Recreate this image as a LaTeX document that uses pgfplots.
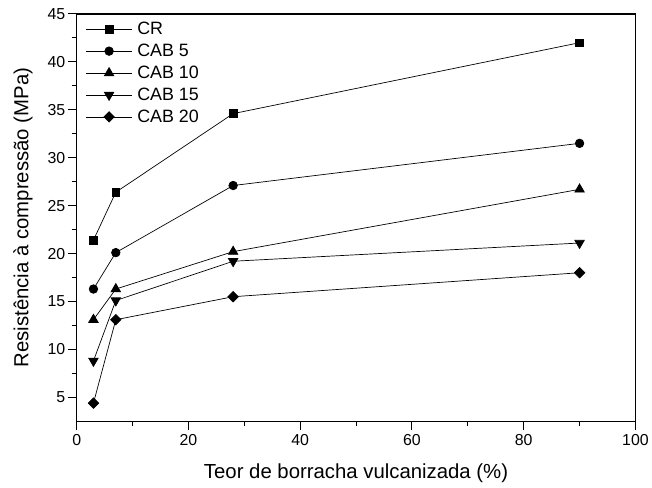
\documentclass[border=0pt]{standalone}
\usepackage{pgfplots}
\pgfplotsset{compat=1.18}
\usepackage{fontspec}
\setmainfont{Liberation Sans}
\begin{document}
\begin{tikzpicture}[x=1bp,y=1bp]
\begin{axis}[
  scale only axis,
  width=561bp, height=409bp,
  xmin=0, xmax=100, ymin=2.5, ymax=45,
  xtick={0,20,40,60,80,100},
  ytick={5,10,15,20,25,30,35,40,45},
  minor x tick num=1, minor y tick num=1,
  axis x line*=bottom, axis y line*=left,
  tick align=outside,
  major tick length=9bp, minor tick length=5bp,
  every tick/.style={black, line width=1pt},
  axis line style={line width=1.2pt},
  tick label style={font=\fontsize{16}{18}\selectfont},
  yticklabel style={xshift=1bp},
  xticklabel style={yshift=-1bp},
  label style={font=\fontsize{20.5}{24}\selectfont},
  /pgf/number format/assume math mode=true,
  xlabel={Teor de borracha vulcanizada (\%)},
  ylabel={Resistência à compressão (MPa)},
  xlabel style={at={(axis description cs:0.5,-0.127)}, anchor=center},
  ylabel style={at={(axis description cs:-0.0963,0.5)}, anchor=center},
  legend style={draw=none, fill=none, at={(0.016,0.985)}, anchor=north west,
    font=\fontsize{18}{21}\selectfont, row sep=4bp, column sep=3bp, inner sep=0pt},
  legend cell align=left,
  legend image code/.code={\draw[#1] (0bp,0bp) -- (46bp,0bp); \draw[#1, only marks] plot coordinates {(23bp,0bp)};},
  every axis plot/.append style={black, line width=0.7pt, mark options={solid, fill=black}},
  clip=false,
]
\path (rel axis cs:0,0) ++(-77bp,-66bp) rectangle ++(652bp,489bp);
\draw[line width=1.2pt] (rel axis cs:0,1) -- (rel axis cs:1,1) -- (rel axis cs:1,0);
\addplot[mark=square*, mark size=3.8bp] coordinates {(3,21.4) (7,26.4) (28,34.6) (90,42.0)};
\addlegendentry{CR}
\addplot[mark=*, mark size=4.3bp] coordinates {(3,16.3) (7,20.1) (28,27.1) (90,31.5)};
\addlegendentry{CAB 5}
\addplot[mark=triangle*, mark size=5.5bp] coordinates {(3,13.1) (7,16.3) (28,20.2) (90,26.7)};
\addlegendentry{CAB 10}
\addplot[mark=triangle*, mark size=5.5bp, mark options={rotate=180}] coordinates {(3,8.8) (7,15.1) (28,19.2) (90,21.1)};
\addlegendentry{CAB 15}
\addplot[mark=square*, mark size=3.7bp, mark options={rotate=45}] coordinates {(3,4.4) (7,13.1) (28,15.5) (90,18.0)};
\addlegendentry{CAB 20}
\end{axis}
\end{tikzpicture}
\end{document}
